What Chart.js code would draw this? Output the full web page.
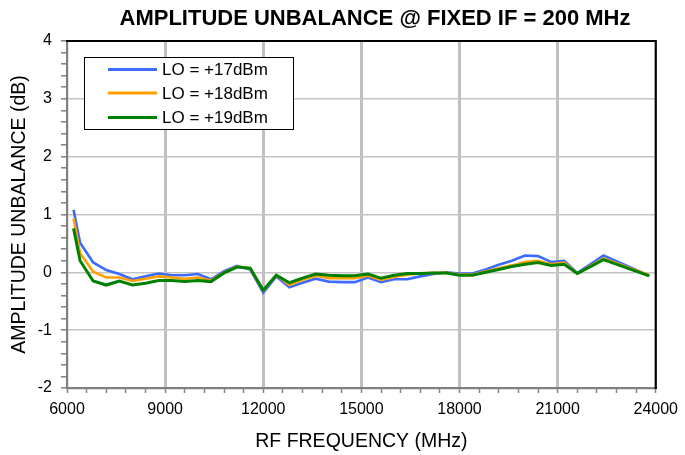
<!DOCTYPE html>
<html>
<head>
<meta charset="utf-8">
<script src="https://cdn.jsdelivr.net/npm/chart.js@4/dist/chart.umd.min.js"></script>
<style>
  html, body { margin: 0; padding: 0; background: #ffffff; }
  #wrap { width: 685px; height: 455px; position: relative; }
</style>
</head>
<body>
<div id="wrap"><canvas id="c" width="685" height="455"></canvas></div>
<script>
const chartTitle = "AMPLITUDE UNBALANCE @ FIXED IF = 200 MHz";
const xTitle = "RF FREQUENCY (MHz)";
const yTitle = "AMPLITUDE UNBALANCE (dB)";
const seriesLabels = ["LO = +17dBm", "LO = +18dBm", "LO = +19dBm"];
const seriesColors = ["#3d6bff", "#ffa000", "#008000"];

const freqMHz = [6200, 6400, 6800, 7200, 7600, 8000, 8400, 8800, 9200, 9600, 10000, 10400,
  10800, 11200, 11600, 12000, 12400, 12800, 13200, 13600, 14000, 14400, 14800, 15200,
  15600, 16000, 16400, 16800, 17200, 17600, 18000, 18400, 18800, 19200, 19600, 20000,
  20400, 20800, 21200, 21600, 22000, 22400, 23800];

const lo17 = [1.08, 0.51, 0.17, 0.04, -0.03, -0.12, -0.07, -0.02, -0.05, -0.05, -0.03, -0.12,
  0.02, 0.11, 0.05, -0.35, -0.07, -0.26, -0.18, -0.11, -0.16, -0.17, -0.17, -0.09,
  -0.17, -0.12, -0.12, -0.07, -0.03, 0.0, -0.02, -0.02, 0.05, 0.13, 0.20, 0.29,
  0.28, 0.18, 0.20, -0.01, 0.14, 0.29, -0.06];

const lo18 = [0.93, 0.33, 0.01, -0.09, -0.09, -0.15, -0.11, -0.07, -0.09, -0.11, -0.09, -0.14,
  0.00, 0.10, 0.07, -0.32, -0.05, -0.22, -0.13, -0.06, -0.10, -0.10, -0.10, -0.06,
  -0.13, -0.08, -0.04, -0.02, -0.01, -0.01, -0.04, -0.04, 0.02, 0.07, 0.12, 0.18,
  0.20, 0.14, 0.17, -0.02, 0.11, 0.24, -0.05];

const lo19 = [0.76, 0.20, -0.15, -0.22, -0.15, -0.22, -0.19, -0.14, -0.14, -0.16, -0.14, -0.16,
  -0.01, 0.09, 0.07, -0.31, -0.05, -0.18, -0.10, -0.03, -0.05, -0.06, -0.06, -0.03,
  -0.10, -0.05, -0.02, -0.02, -0.01, -0.01, -0.05, -0.05, 0.00, 0.05, 0.10, 0.14,
  0.17, 0.12, 0.14, -0.02, 0.10, 0.22, -0.06];

const xMin = 6000, xMax = 24000, xMajor = 3000, xMinor = 600;
const yMin = -2, yMax = 4, yMajor = 1, yMinor = 0.2;

const FONT = "'Liberation Sans', Arial, sans-serif";

function isMult(v, step) {
  const r = v / step;
  return Math.abs(r - Math.round(r)) < 1e-6;
}

function toPts(vals) {
  return freqMHz.map((f, i) => ({ x: f, y: vals[i] }));
}

const allSeries = [lo17, lo18, lo19];

const datasets = allSeries.map((vals, i) => ({
  label: seriesLabels[i],
  data: toPts(vals),
  borderColor: seriesColors[i],
  backgroundColor: seriesColors[i],
  borderWidth: i === 2 ? 3 : 2.6,
  pointRadius: 0,
  tension: 0,
  fill: false,
  order: 3 - i
}));

const decorPlugin = {
  id: 'decor',
  afterDatasetsDraw(chart) {
    const ctx = chart.ctx;
    const a = chart.chartArea;
    ctx.save();
    // legend box
    const bx = 84, by = 57, bw = 209, bh = 72;
    ctx.fillStyle = '#ffffff';
    ctx.fillRect(bx, by, bw, bh);
    ctx.strokeStyle = '#000000';
    ctx.lineWidth = 1;
    ctx.strokeRect(bx + 0.5, by + 0.5, bw, bh);
    const rows = [69.5, 93, 117.5];
    ctx.font = "17px " + FONT;
    ctx.textBaseline = 'middle';
    ctx.textAlign = 'left';
    chart.data.datasets.forEach((ds, i) => {
      ctx.strokeStyle = ds.borderColor;
      ctx.lineWidth = 3;
      ctx.beginPath();
      ctx.moveTo(108, rows[i]);
      ctx.lineTo(157, rows[i]);
      ctx.stroke();
      ctx.fillStyle = '#000000';
      ctx.fillText(ds.label, 162, rows[i] + 1);
    });
    // top and right frame
    ctx.strokeStyle = '#000000';
    ctx.lineWidth = 2.2;
    ctx.beginPath();
    ctx.moveTo(a.left - 1, a.top);
    ctx.lineTo(a.right, a.top);
    ctx.lineTo(a.right, a.bottom + 1);
    ctx.stroke();
    // title
    ctx.fillStyle = '#000000';
    ctx.font = "bold 22px " + FONT;
    ctx.textAlign = 'center';
    ctx.textBaseline = 'alphabetic';
    ctx.fillText(chartTitle, 375, 25);
    ctx.restore();
  }
};

new Chart(document.getElementById('c'), {
  type: 'line',
  data: { datasets },
  options: {
    responsive: false,
    animation: false,
    devicePixelRatio: 1,
    layout: { padding: { top: 41, right: 25, left: 0, bottom: 0 } },
    plugins: {
      legend: { display: false },
      title: { display: false },
      tooltip: { enabled: false }
    },
    scales: {
      x: {
        type: 'linear',
        min: xMin,
        max: xMax,
        afterFit(scale) { scale.height = 67; },
        afterBuildTicks(scale) {
          const t = [];
          for (let v = xMin; v <= xMax + 1e-6; v += xMinor) t.push({ value: v });
          scale.ticks = t;
        },
        ticks: {
          autoSkip: false,
          maxRotation: 0,
          minRotation: 0,
          padding: 7,
          color: '#000000',
          font: { family: FONT, size: 16 },
          callback: (v) => isMult(v, xMajor) ? String(v) : ''
        },
        grid: {
          drawTicks: true,
          tickLength: 5,
          tickWidth: 1.5,
          tickColor: '#808080',
          color: (c) => {
            const v = c.tick ? c.tick.value : 0;
            if (v <= xMin || v >= xMax) return 'rgba(0,0,0,0)';
            return isMult(v, xMajor) ? '#c0c0c0' : 'rgba(0,0,0,0)';
          },
          lineWidth: 3
        },
        border: { display: true, color: '#808080', width: 2.2 },
        title: {
          display: true,
          text: xTitle,
          color: '#000000',
          font: { family: FONT, size: 19.5 },
          padding: { top: 0, bottom: 2 }
        }
      },
      y: {
        type: 'linear',
        min: yMin,
        max: yMax,
        afterFit(scale) { scale.width = 67; },
        afterBuildTicks(scale) {
          const t = [];
          for (let k = 0; k <= Math.round((yMax - yMin) / yMinor); k++) {
            t.push({ value: Math.round((yMin + k * yMinor) * 1000) / 1000 });
          }
          scale.ticks = t;
        },
        ticks: {
          autoSkip: false,
          padding: 9,
          color: '#000000',
          font: { family: FONT, size: 16 },
          callback: (v) => isMult(v, yMajor) ? String(Math.round(v)) : ''
        },
        grid: {
          drawTicks: true,
          tickLength: 6,
          tickWidth: 1.5,
          tickColor: '#808080',
          color: (c) => {
            const v = c.tick ? c.tick.value : 0;
            if (v <= yMin + 1e-6 || v >= yMax - 1e-6) return 'rgba(0,0,0,0)';
            return isMult(v, yMajor) ? '#c4c4c4' : 'rgba(0,0,0,0)';
          },
          lineWidth: 1.6
        },
        border: { display: true, color: '#808080', width: 2.2 },
        title: {
          display: true,
          text: yTitle,
          color: '#000000',
          font: { family: FONT, size: 19.5 },
          padding: { top: 8, bottom: 0 }
        }
      }
    }
  },
  plugins: [decorPlugin]
});
</script>
</body>
</html>
